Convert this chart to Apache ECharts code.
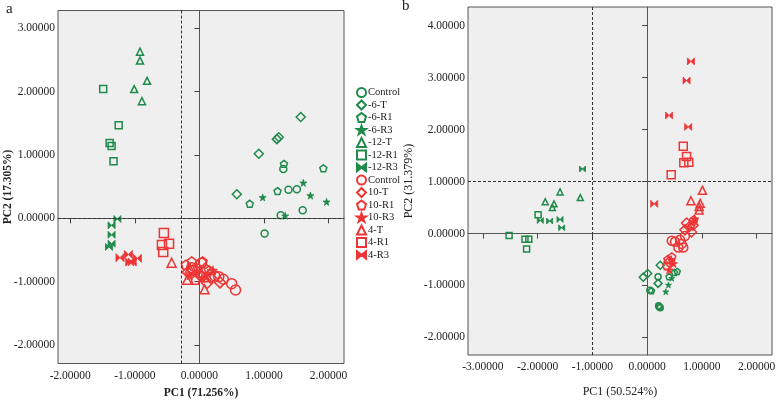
<!DOCTYPE html>
<html>
<head>
<meta charset="utf-8">
<script src="https://cdn.jsdelivr.net/npm/echarts@6/dist/echarts.min.js"></script>
<style>html,body{margin:0;padding:0;background:#fff}#c{width:778px;height:400px}</style>
</head>
<body>
<div id="c"></div>
<script>
// ---------- tick labels ----------
const aXTicks = [-2, -1, 0, 1, 2];
const aYTicks = [-2, -1, 0, 1, 2, 3];
const bXTicks = [-3, -2, -1, 0, 1, 2];
const bYTicks = [-2, -1, 0, 1, 2, 3, 4];
// reference (dashed) lines
const aRef = [-0.276, 0];
const bRef = [-1, 1];
// series names
const names = ['Control', '-6-T', '-6-R1', '-6-R3', '-12-T', '-12-R1', '-12-R3',
               'Control ', '10-T', '10-R1', '10-R3', '4-T', '4-R1', '4-R3'];

// ---------- panel a values [PC1, PC2] ----------
const aCtrlG = [[1.38,0.45],[1.51,0.46],[1.26,0.05],[1.60,0.13],[1.01,-0.24],[1.30,0.78]];
const a6T    = [[1.57,1.60],[1.20,1.25],[1.23,1.28],[0.92,1.02],[0.58,0.38]];
const a6R1   = [[1.21,0.43],[0.78,0.23],[1.92,0.79],[1.31,0.86]];
const a6R3   = [[1.61,0.56],[0.98,0.33],[1.72,0.36],[1.97,0.26],[1.33,0.04]];
const a12T   = [[-0.92,2.63],[-0.92,2.49],[-0.81,2.17],[-1.01,2.04],[-0.89,1.85]];
const a12R1  = [[-1.49,2.04],[-1.25,1.47],[-1.39,1.19],[-1.36,1.14],[-1.33,0.90]];
const a12R3  = [[-1.27,-0.01],[-1.36,-0.11],[-1.36,-0.26],[-1.36,-0.40],[-1.40,-0.45]];
const aCtrlR = [[0.24,-0.91],[0.30,-0.92],[0.37,-0.96],[0.50,-1.03],[0.56,-1.13],[0.03,-0.71],[-0.12,-0.78]];
const a10T   = [[-0.10,-0.82],[0.01,-0.90],[0.12,-1.02],[-0.18,-0.85],[0.09,-0.79],[0.18,-0.94],[0.32,-1.01]];
const a10R1  = [[-0.21,-0.73],[-0.12,-0.68],[-0.02,-0.79],[0.05,-0.68],[0.15,-0.82],[-0.06,-0.97]];
const a10R3  = [[-0.15,-0.90],[-0.04,-0.85],[0.04,-0.94],[0.13,-0.87],[0.21,-0.82]];
const a4T    = [[-0.43,-0.70],[-0.19,-0.97],[0.08,-1.12],[-0.15,-0.79],[0.09,-0.93]];
const a4R1   = [[-0.55,-0.23],[-0.58,-0.42],[-0.47,-0.40],[-0.56,-0.53]];
const a4R3   = [[-1.23,-0.62],[-1.10,-0.57],[-0.96,-0.63],[-1.08,-0.69],[-1.04,-0.69]];

// ---------- panel b values [PC1, PC2] ----------
const bCtrlG = [[0.22,-1.41],[0.24,-1.43],[0.21,-1.39],[0.20,-0.83],[0.05,-1.09]];
const b6T    = [[-0.07,-0.84],[0.01,-0.77],[0.24,-0.61],[0.20,-0.96]];
const b6R1   = [[0.40,-0.83],[0.50,-0.75],[0.55,-0.73],[0.08,-1.10]];
const b6R3   = [[0.39,-0.99],[0.34,-1.12],[0.45,-0.86]];
const b12T   = [[-1.59,0.80],[-1.86,0.61],[-1.70,0.57],[-1.73,0.50],[-1.22,0.69]];
const b12R1  = [[-1.99,0.36],[-2.52,-0.04],[-2.23,-0.11],[-2.16,-0.11],[-2.20,-0.30]];
const b12R3  = [[-1.18,1.24],[-1.78,0.24],[-1.59,0.27],[-1.56,0.11],[-1.95,0.25]];
const bCtrlR = [[0.45,-0.14],[0.60,-0.12],[0.63,-0.20],[0.57,-0.27],[0.66,-0.27],[0.69,-0.05],[0.51,-0.16]];
const b10T   = [[0.72,0.20],[0.81,0.03],[0.77,0.13],[0.84,0.16],[0.69,0.07],[0.40,-0.55]];
const b10R1  = [[0.85,0.26],[0.38,-0.50],[0.45,-0.45],[0.36,-0.62]];
const b10R3  = [[0.87,0.28],[0.83,0.22],[0.44,-0.50],[0.48,-0.58],[0.40,-0.70]];
const b4T    = [[1.01,0.83],[0.80,0.63],[0.97,0.58],[0.95,0.52],[0.95,0.45]];
const b4R1   = [[0.66,1.68],[0.72,1.48],[0.67,1.36],[0.76,1.37],[0.44,1.13]];
const b4R3   = [[0.80,3.31],[0.72,2.94],[0.40,2.27],[0.75,2.05],[0.13,0.57]];

const aData = [aCtrlG,a6T,a6R1,a6R3,a12T,a12R1,a12R3,aCtrlR,a10T,a10R1,a10R3,a4T,a4R1,a4R3];
const bData = [bCtrlG,b6T,b6R1,b6R3,b12T,b12R1,b12R3,bCtrlR,b10T,b10R1,b10R3,b4T,b4R1,b4R3];

const GREEN = '#1f8a4a', RED = '#ee3535';
const FONT = '"Liberation Serif","DejaVu Serif",serif';
const PENT = 'path://M5,0 L10,3.8 L8.1,10 L1.9,10 L0,3.8 Z';
const STAR = 'path://M5,0 L6.2,3.6 L10,3.6 L6.9,5.9 L8.1,9.5 L5,7.3 L1.9,9.5 L3.1,5.9 L0,3.6 L3.8,3.6 Z';
const BOW  = 'path://M0,1 L5,5 L0,9 Z M10,1 L5,5 L10,9 Z';
// symbol, hollow, size(green), size(red)
const styles = [
  ['circle', true, 7, 10], ['diamond', true, 9, 11], [PENT, true, 7, 9], [STAR, false, 7, 9],
  ['triangle', true, 7, 9], ['rect', true, 7, 9], [BOW, false, 7, 8]
];

function mkSeries(data, i, panel) {
  const st = styles[i % 7];
  const color = i < 7 ? GREEN : RED;
  const size = (i < 7 ? st[2] : st[3]) - (panel === 1 ? 1 : 0);
  return {
    type: 'scatter', name: names[i], xAxisIndex: panel, yAxisIndex: panel,
    data: data, symbol: st[0], symbolSize: size,
    itemStyle: st[1] ? {color: 'rgba(0,0,0,0)', borderColor: color, borderWidth: 1.5, opacity: 1}
                     : {color: color, borderColor: color, borderWidth: 0.8, opacity: 1},
    z: 3
  };
}
const series = [];
aData.forEach((d, i) => series.push(mkSeries(d, i, 0)));
bData.forEach((d, i) => series.push(mkSeries(d, i, 1)));
function refLines(panel, ref) {
  return {
    type: 'scatter', name: 'ref' + panel, data: [], xAxisIndex: panel, yAxisIndex: panel,
    markLine: {silent: true, symbol: 'none', label: {show: false}, animation: false,
      lineStyle: {type: [3, 2], color: '#333', width: 1},
      data: [{xAxis: ref[0]}, {yAxis: ref[1]}]}
  };
}
series.push(refLines(0, aRef), refLines(1, bRef));

function fmt(v) { return v.toFixed(5); }
function axis(grid, min, max, ticks, name, gap, bold, fs, isY) {
  return {
    type: 'value', gridIndex: grid, min: min, max: max,
    axisLine: {show: true, lineStyle: {color: '#555', width: 1}},
    axisTick: {show: true, length: 5, customValues: ticks, lineStyle: {color: '#444'}},
    axisLabel: {customValues: ticks, formatter: fmt, fontFamily: FONT, fontSize: 11.5, color: '#222', margin: isY ? 3 : 6},
    splitLine: {show: false},
    name: name, nameLocation: 'middle', nameGap: gap, nameMoveOverlap: false,
    nameTextStyle: {fontFamily: FONT, fontSize: fs, fontWeight: bold ? 'bold' : 'normal', color: '#222'}
  };
}

const chart = echarts.init(document.getElementById('c'), null, {renderer: 'canvas'});
chart.setOption({
  animation: false,
  backgroundColor: '#fff',
  grid: [
    {left: 58, top: 10.5, width: 286, height: 353, show: true, backgroundColor: '#efefef', borderColor: '#555', borderWidth: 1, outerBoundsMode: 'none', containLabel: false},
    {left: 468, top: 7, width: 304, height: 348, show: true, backgroundColor: '#efefef', borderColor: '#555', borderWidth: 1, outerBoundsMode: 'none', containLabel: false}
  ],
  xAxis: [
    axis(0, -2.19, 2.24, aXTicks, 'PC1 (71.256%)', 24, true, 11.5, false),
    axis(1, -3.27, 2.28, bXTicks, 'PC1 (50.524%)', 31, false, 12, false)
  ],
  yAxis: [
    axis(0, -2.29, 3.28, aYTicks, 'PC2 (17.305%)', 44, true, 11.5, true),
    axis(1, -2.337, 4.356, bYTicks, 'PC2 (31.379%)', 53, false, 12, true)
  ],
  legend: {
    data: names, orient: 'vertical', left: 351, top: 82,
    itemWidth: 9, itemHeight: 9, itemGap: 1.5, selectedMode: false,
    textStyle: {fontFamily: FONT, fontSize: 10.5, color: '#222', padding: [0, 0, 0, -3]}
  },
  graphic: [
    {type: 'text', left: 6, top: 2, style: {text: 'a', font: '15px ' + FONT, fill: '#222'}},
    {type: 'text', left: 402, top: -1, style: {text: 'b', font: '15px ' + FONT, fill: '#222'}}
  ],
  series: series
});
</script>
</body>
</html>
